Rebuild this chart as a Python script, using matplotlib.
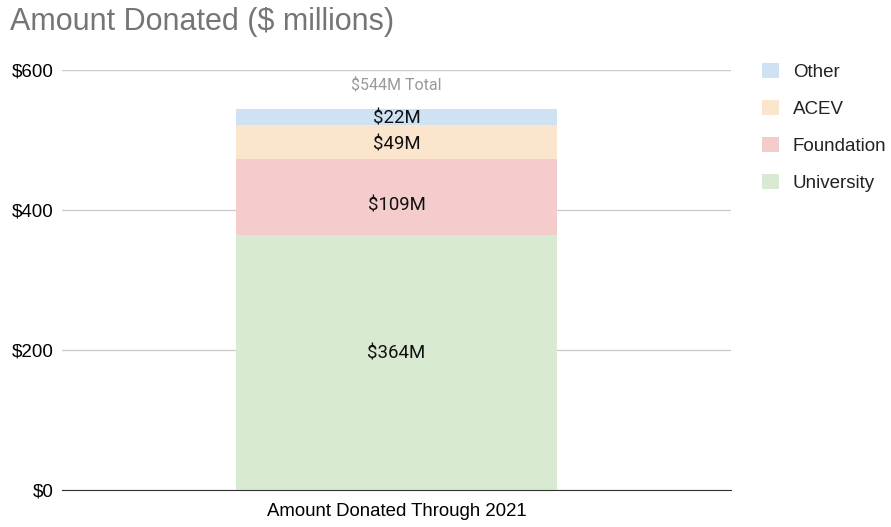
import matplotlib
matplotlib.use("Agg")
import matplotlib.pyplot as plt
from matplotlib.patches import Patch

category = "Amount Donated Through 2021"
series = ["University", "Foundation", "ACEV", "Other"]
values = [364, 109, 49, 22]
colors = ["#d9ead3", "#f4cccc", "#fce5cd", "#cfe2f3"]
# label nudges (in $M) to sit where the original chart put them
label_shift = [12.6, -12.5, -3.5, -3]
yticks = [0, 200, 400, 600]
ytick_labels = ["$0", "$200", "$400", "$600"]

plt.rcParams["font.family"] = ["Liberation Sans", "DejaVu Sans"]

fig = plt.figure(figsize=(8.91, 5.27), dpi=100)
ax = fig.add_axes([0.0696, 0.0702, 0.7508, 0.797])

bottom = 0
for name, val, col, sh in zip(series, values, colors, label_shift):
    ax.bar([0], [val], bottom=bottom, width=0.481, color=col, label=name, zorder=2)
    ax.text(0, bottom + val / 2 + sh, "$%dM" % val, ha="center", va="center",
            fontsize=13.4, family=["Roboto", "DejaVu Sans"], color="#111111", zorder=3)
    bottom += val

ax.text(0, bottom + 35, "$%dM Total" % bottom, ha="center", va="center",
        fontsize=11.5, family=["Roboto", "DejaVu Sans"], color="#999999")

ax.set_xlim(-0.5, 0.5)
ax.set_ylim(0, 600)
ax.set_yticks(yticks)
ax.set_yticklabels(ytick_labels, fontsize=13.5)
ax.set_xticks([0])
ax.set_xticklabels([category], fontsize=13.4)
ax.tick_params(axis="x", length=0, pad=9)
ax.tick_params(axis="y", length=0, pad=6)
ax.grid(axis="y", color="#cccccc", linewidth=1, zorder=0)
for s in ["top", "right", "left"]:
    ax.spines[s].set_visible(False)
ax.spines["bottom"].set_color("#333333")
ax.spines["bottom"].set_zorder(4)

fig.text(0.011, 0.958, "Amount Donated ($ millions)", fontsize=22, color="#757575",
         ha="left", va="center")

handles = [Patch(facecolor=c, edgecolor="none") for c in colors[::-1]]
fig.legend(handles, series[::-1], loc="upper left", bbox_to_anchor=(0.836, 0.913),
           frameon=False, fontsize=13.5, handlelength=0.9, handleheight=0.9,
           labelspacing=1.0, handletextpad=0.75, labelcolor="#222222")

fig.savefig("out.png", dpi=100)
